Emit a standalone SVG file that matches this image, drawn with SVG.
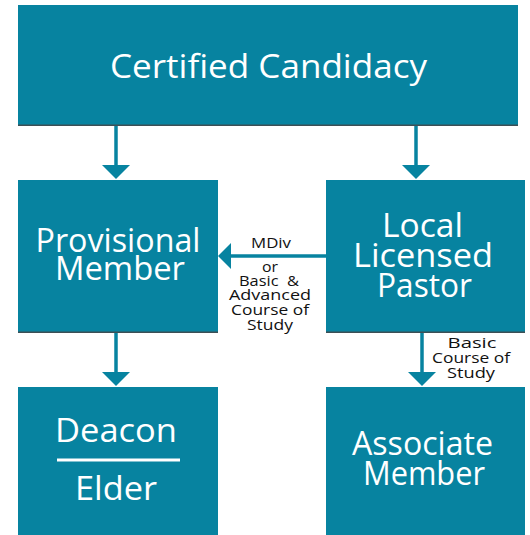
<svg xmlns="http://www.w3.org/2000/svg" width="530" height="535" viewBox="0 0 530 535">
<style>
.box{fill:#0783a0}
.sh{fill:#3d4f55}
.big{font-family:"Open Sans",Lato,sans-serif;fill:#fff;text-anchor:middle;font-size:32px}
.sm{font-family:"Open Sans",Lato,sans-serif;fill:#111;text-anchor:middle;font-size:15px}
.ln{stroke:#0783a0;stroke-width:3.5;fill:none}
.hd{fill:#0783a0}
</style>
<rect width="530" height="535" fill="#fff"/>
<g id="connectors">
<line class="ln" x1="116" y1="125" x2="116" y2="168"/>
<polygon class="hd" points="102,165 130,165 116,179"/>
<line class="ln" x1="416" y1="125" x2="416" y2="168"/>
<polygon class="hd" points="402,165 430,165 416,179"/>
<line class="ln" x1="326" y1="256" x2="228" y2="256"/>
<polygon class="hd" points="231,243 231,269 218,256"/>
<line class="ln" x1="116" y1="332" x2="116" y2="375"/>
<polygon class="hd" points="102,372 130,372 116,386"/>
<line class="ln" x1="422" y1="332" x2="422" y2="375"/>
<polygon class="hd" points="408,372 436,372 422,386"/>
<g id="label-mdiv">
<text class="sm" x="271" y="248" textLength="40" lengthAdjust="spacingAndGlyphs">MDiv</text>
<text class="sm" x="270" y="272" textLength="16" lengthAdjust="spacingAndGlyphs">or</text>
<text class="sm" x="269" y="286" textLength="60" lengthAdjust="spacingAndGlyphs" xml:space="preserve">Basic  &amp;</text>
<text class="sm" x="270" y="300" textLength="82" lengthAdjust="spacingAndGlyphs">Advanced</text>
<text class="sm" x="270" y="315" textLength="78" lengthAdjust="spacingAndGlyphs">Course of</text>
<text class="sm" x="270" y="330" textLength="46" lengthAdjust="spacingAndGlyphs">Study</text>
</g>
<g id="label-basic">
<text class="sm" x="472" y="348" textLength="49" lengthAdjust="spacingAndGlyphs">Basic</text>
<text class="sm" x="471" y="363" textLength="78" lengthAdjust="spacingAndGlyphs">Course of</text>
<text class="sm" x="471" y="378" textLength="48" lengthAdjust="spacingAndGlyphs">Study</text>
</g>
</g>
<g id="certified">
<rect class="sh" x="18" y="6" width="500" height="120"/>
<rect class="box" x="18" y="5" width="500" height="119.5"/>
<text class="big" x="268.5" y="78" font-size="33" textLength="317" lengthAdjust="spacingAndGlyphs">Certified Candidacy</text>
</g>
<g id="provisional">
<rect class="sh" x="18" y="181" width="200" height="152"/>
<rect class="box" x="18" y="180" width="200" height="151.5"/>
<text class="big" x="118" y="252" textLength="165" lengthAdjust="spacingAndGlyphs">Provisional</text>
<text class="big" x="120" y="280" textLength="130" lengthAdjust="spacingAndGlyphs">Member</text>
</g>
<g id="local">
<rect class="sh" x="326" y="181" width="199" height="152"/>
<rect class="box" x="326" y="180" width="199" height="151.5"/>
<text class="big" x="422.5" y="237" textLength="81" lengthAdjust="spacingAndGlyphs">Local</text>
<text class="big" x="423" y="267" textLength="140" lengthAdjust="spacingAndGlyphs">Licensed</text>
<text class="big" x="424.5" y="297" textLength="95" lengthAdjust="spacingAndGlyphs">Pastor</text>
</g>
<g id="deacon">
<rect class="box" x="18" y="387" width="200" height="148"/>
<text class="big" x="116" y="442" textLength="122" lengthAdjust="spacingAndGlyphs">Deacon</text>
<rect x="57" y="458.5" width="123" height="3" fill="#fff"/>
<text class="big" x="116" y="500" textLength="82" lengthAdjust="spacingAndGlyphs">Elder</text>
</g>
<g id="associate">
<rect class="box" x="326" y="387" width="199" height="148"/>
<text class="big" x="422.5" y="455" textLength="141" lengthAdjust="spacingAndGlyphs">Associate</text>
<text class="big" x="424" y="485" textLength="122" lengthAdjust="spacingAndGlyphs">Member</text>
</g>
</svg>
